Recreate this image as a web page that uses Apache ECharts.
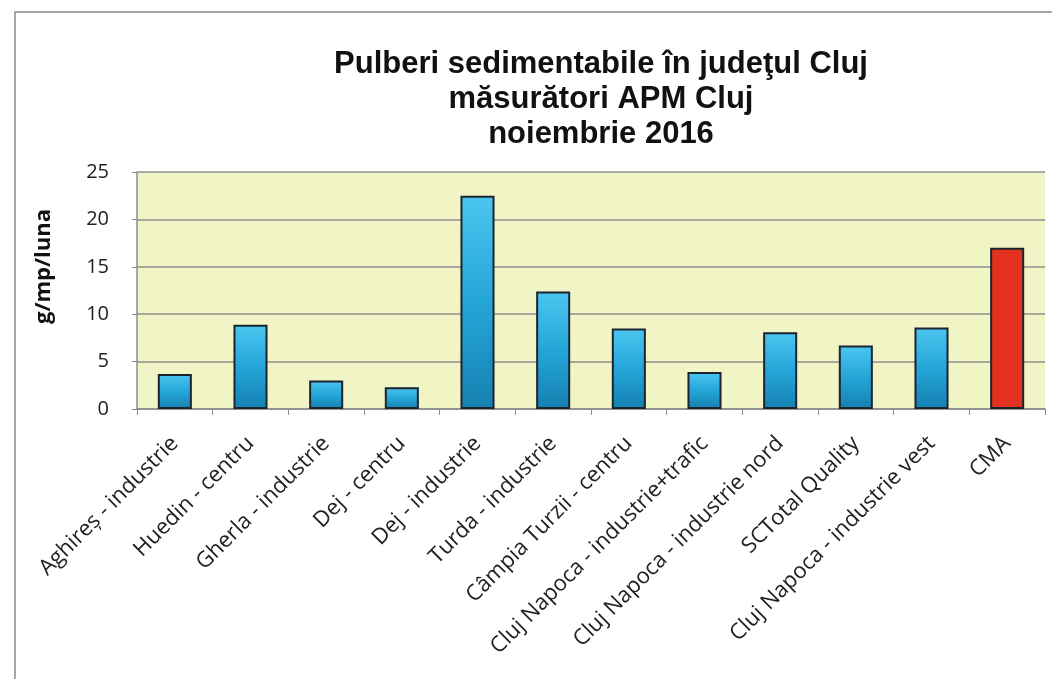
<!DOCTYPE html>
<html>
<head>
<meta charset="utf-8">
<script src="https://cdn.jsdelivr.net/npm/echarts@6/dist/echarts.min.js"></script>
<style>
html,body{margin:0;padding:0;background:#fff;}
#c{width:1052px;height:679px;}
</style>
</head>
<body>
<div id="c"></div>
<script>
const categories = ["Aghireș - industrie","Huedin - centru","Gherla - industrie","Dej - centru","Dej - industrie","Turda - industrie","Câmpia Turzii - centru","Cluj Napoca - industrie+trafic","Cluj Napoca - industrie nord","SCTotal Quality","Cluj Napoca - industrie vest","CMA"];
const values = [3.7, 8.9, 3.0, 2.3, 22.5, 12.4, 8.5, 3.9, 8.1, 6.7, 8.6, 17.0];
const yTicks = [0, 5, 10, 15, 20, 25];
const titleLines = ["Pulberi sedimentabile în judeţul Cluj","măsurători APM Cluj","noiembrie 2016"];
const yName = "g/mp/luna";

const blue = new echarts.graphic.LinearGradient(0,0,0,1,[{offset:0,color:'#4cc6f0'},{offset:0.5,color:'#25a6d8'},{offset:1,color:'#1580b0'}]);
const red = '#e2311f';

const chart = echarts.init(document.getElementById('c'));
chart.setOption({
  backgroundColor:'#ffffff',
  animation:false,
  title:{
    text: titleLines.join('\n'),
    left: 596, textAlign:'center', top: 42,
    textStyle:{fontFamily:'Liberation Sans, Arial', fontWeight:'bold', fontSize:31, lineHeight:35, color:'#111'}
  },
  graphic:[{type:'polyline', shape:{points:[[15,679],[15,12],[1052,12]]}, style:{stroke:'#8a8a8a', lineWidth:1.5, fill:null}}],
  grid:{left:137, right:7, top:172, bottom:270, backgroundColor:'#f1f4c5', show:true, borderWidth:0},
  xAxis:{
    type:'category', data:categories,
    axisLine:{lineStyle:{color:'#8c8c8c', width:1.5}},
    axisTick:{show:true, length:6, lineStyle:{color:'#8c8c8c'}},
    axisLabel:{rotate:45, fontFamily:'Open Sans, Liberation Sans', fontSize:22, color:'#222', margin:31, interval:0}
  },
  yAxis:{
    type:'value', min:0, max:25, interval:5,
    name: yName, nameLocation:'middle', nameGap:82, nameRotate:90,
    nameTextStyle:{fontFamily:'Open Sans, Liberation Sans', fontWeight:'bold', fontSize:22, color:'#111', padding:[0,0,0,48]},
    axisLine:{show:true, lineStyle:{color:'#8c8c8c', width:1.5}},
    axisTick:{show:true, length:5, lineStyle:{color:'#8c8c8c'}},
    axisLabel:{fontFamily:'Open Sans, Liberation Sans', fontSize:20, color:'#222', margin:28,
      formatter: v => yTicks.includes(v) ? String(v) : ''},
    splitLine:{lineStyle:{color:'#8e8e8e', width:1.5}}
  },
  series:[{
    type:'bar', barWidth:'45%',
    data: values.map((v,i)=>({value:v, itemStyle:{color: i===values.length-1 ? red : blue}})),
    itemStyle:{borderColor:'#1b2530', borderWidth:2}
  }]
});
</script>
</body>
</html>
